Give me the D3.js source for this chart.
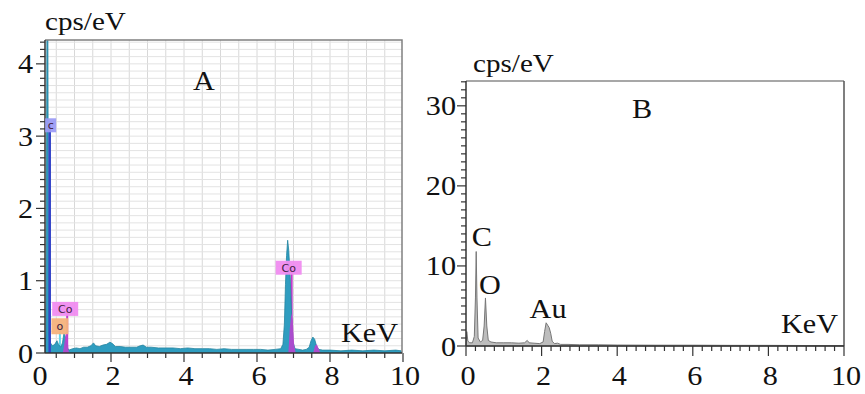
<!DOCTYPE html>
<html><head><meta charset="utf-8">
<script src="https://cdn.jsdelivr.net/npm/d3@7"></script>
<style>body{margin:0;background:#fff}svg{display:block}</style>
</head><body>
<svg id="c" width="865" height="394"></svg>
<script>
// ---------- DATA ----------
const xTicks = [0, 2, 4, 6, 8, 10];
const yTicksA = [0, 1, 2, 3, 4];
const yTicksB = [0, 10, 20, 30];
const unitY = "cps/eV";
const unitX = "KeV";
const panelNames = ["A", "B"];

// Panel A: measured spectrum [keV, cps/eV]
const spectrumA = [
 [0.18,0],[0.22,0.25],[0.245,4.6],[0.27,4.6],[0.29,0.3],[0.34,0.14],[0.40,0.10],[0.46,0.12],
 [0.52,0.17],[0.56,0.12],[0.62,0.08],[0.67,0.14],[0.71,0.27],[0.75,0.22],[0.79,0.08],[0.85,0.04],
 [0.95,0.06],[1.05,0.07],[1.15,0.06],[1.25,0.08],[1.35,0.08],[1.45,0.10],[1.52,0.14],[1.58,0.10],
 [1.68,0.09],[1.78,0.11],[1.88,0.12],[1.97,0.15],[2.04,0.13],[2.12,0.09],[2.25,0.09],[2.4,0.08],
 [2.55,0.08],[2.7,0.08],[2.8,0.10],[2.88,0.11],[2.97,0.08],[3.1,0.08],[3.3,0.07],[3.5,0.07],
 [3.7,0.07],[3.9,0.06],[4.1,0.07],[4.3,0.06],[4.5,0.06],[4.7,0.06],[4.9,0.05],[5.1,0.06],
 [5.3,0.05],[5.5,0.05],[5.7,0.05],[5.9,0.05],[6.1,0.05],[6.3,0.04],[6.5,0.05],[6.65,0.06],
 [6.71,0.12],[6.75,0.4],[6.78,0.95],[6.81,1.35],[6.84,1.56],[6.87,1.42],[6.91,1.05],[6.95,0.5],
 [6.99,0.15],[7.04,0.06],[7.15,0.05],[7.25,0.04],[7.35,0.05],[7.43,0.08],[7.48,0.17],[7.53,0.22],
 [7.58,0.19],[7.63,0.1],[7.69,0.05],[7.8,0.04],[8.0,0.04],[8.3,0.03],[8.6,0.04],[8.9,0.03],
 [9.2,0.04],[9.5,0.03],[9.8,0.04],[9.95,0.03]
];
// Panel A: Co fitted contribution (magenta), three peaks
const cobaltL  = [[0.68,0],[0.72,0.12],[0.76,0.28],[0.80,0.25],[0.84,0.02],[0.88,0]];
const cobaltKa = [[6.86,0],[6.90,0.35],[6.94,0.55],[6.98,0.45],[7.02,0.1],[7.06,0]];
const cobaltKb = [[7.54,0],[7.59,0.1],[7.64,0.12],[7.69,0.06],[7.74,0]];
// Panel A: element markers (line position in keV, label-box centre height)
const markersA = [
 {el:"C",  keV:0.32, lab:3.15, box:"#9c9cf5", line:"#3344c8", w:11, h:14, dx:1},
 {el:"O",  keV:0.60, lab:0.37, box:"#f6b27c", line:"#5fd7ec", w:17, h:16, dx:0},
 {el:"Co", keV:0.80, lab:0.61, box:"#f08cf0", line:"#c43ccc", w:26, h:14, dx:-2},
 {el:"Co", keV:6.95, lab:1.18, box:"#f08cf0", line:"#c43ccc", w:26, h:14, dx:-3}
];

// Panel B: measured spectrum [keV, cps/eV]
const spectrumB = [
 [0,0],[0.02,1.8],[0.05,0.6],[0.10,0.4],[0.17,0.4],[0.22,1.2],[0.25,6],[0.27,11.8],[0.29,6],
 [0.32,1.0],[0.38,0.5],[0.44,0.7],[0.48,2.5],[0.515,6.0],[0.55,2.5],[0.59,0.7],[0.66,0.5],
 [0.8,0.4],[1.0,0.4],[1.2,0.4],[1.4,0.35],[1.55,0.4],[1.62,0.7],[1.67,0.4],[1.8,0.35],
 [1.95,0.3],[2.04,0.5],[2.08,1.8],[2.12,2.9],[2.16,2.6],[2.20,2.3],[2.24,1.6],[2.28,0.6],
 [2.34,0.3],[2.42,0.35],[2.5,0.2],[2.7,0.2],[3.0,0.15],[3.5,0.15],[4,0.12],[5,0.1],
 [6,0.1],[7,0.08],[8,0.08],[9,0.06],[10,0.05]
];
// Panel B: peak labels
const labelsB = [
 {t:"C",  keV:0.42, v:12.6},
 {t:"O",  keV:0.63, v:6.6},
 {t:"Au", keV:2.17, v:3.5}
];

// ---------- DRAW ----------
const FONT = "Liberation Serif, Times New Roman, serif";
const svg = d3.select("#c");
const SX = 1.12; // horizontal stretch of the source lettering
function txt(g, x, y, s, size, anchor){
  return g.append("text").attr("transform",`translate(${x},${y}) scale(${SX},1)`)
    .attr("font-family",FONT).attr("fill","#111")
    .attr("font-size",size).attr("text-anchor",anchor||"start").text(s);
}

// ===== Panel A =====
const A = {l:45, r:402, t:40, b:353};
const xA = d3.scaleLinear().domain([0,10]).range([38,403]);
const yA = d3.scaleLinear().domain([0,4.33]).range([A.b, A.t]);
const gA = svg.append("g");
svg.append("defs").append("clipPath").attr("id","clipA").append("rect")
  .attr("x",A.l).attr("y",A.t).attr("width",A.r-A.l).attr("height",A.b-A.t);
// grid
const gridA = gA.append("g").attr("stroke-width",1);
d3.range(0.5,10,0.5).forEach(v=>{ if(xA(v)>A.l+1) gridA.append("line").attr("x1",xA(v)).attr("x2",xA(v)).attr("y1",A.t).attr("y2",A.b).attr("stroke","#d8d8d8");});
d3.range(1,44).map(i=>i/10).forEach(v=>gridA.append("line").attr("x1",A.l).attr("x2",A.r).attr("y1",yA(v)).attr("y2",yA(v)).attr("stroke","#e3e3e3"));
const plotA = gA.append("g").attr("clip-path","url(#clipA)");
const areaA = d3.area().x(d=>xA(d[0])).y0(yA(0)).y1(d=>yA(d[1]));
// marker lines (behind spectrum)
markersA.forEach(m=>{
  plotA.append("line").attr("x1",xA(m.keV)).attr("x2",xA(m.keV)).attr("y1",yA(0)).attr("y2",yA(m.lab))
   .attr("stroke",m.line).attr("stroke-width",2);
});
plotA.append("path").datum(spectrumA).attr("d",areaA).attr("fill","#2f9dc0").attr("stroke","#23849f").attr("stroke-width",0.8);
[cobaltL, cobaltKa, cobaltKb].forEach(p=>plotA.append("path").datum(p).attr("d",areaA).attr("fill","#c040d0").attr("opacity",0.85));
// C marker over the spectrum
const mC = markersA[0];
plotA.append("line").attr("x1",xA(mC.keV)).attr("x2",xA(mC.keV)).attr("y1",yA(0)).attr("y2",yA(mC.lab)).attr("stroke",mC.line).attr("stroke-width",2.5);
// frame
gA.append("path").attr("d",`M${A.l},${A.t}H${A.r}V${A.b}`).attr("fill","none").attr("stroke","#808080").attr("stroke-width",1.5);
gA.append("line").attr("x1",A.l).attr("x2",A.l).attr("y1",A.t).attr("y2",A.b).attr("stroke","#333").attr("stroke-width",1.5);
gA.append("line").attr("x1",A.l).attr("x2",A.r).attr("y1",A.b).attr("y2",A.b).attr("stroke","#333").attr("stroke-width",1.5);
// y ticks
d3.range(0,44).map(i=>i/10).forEach(v=>{
  const maj = Math.abs(v-Math.round(v))<1e-6;
  gA.append("line").attr("x1",A.l-(maj?9:5)).attr("x2",A.l).attr("y1",yA(v)).attr("y2",yA(v)).attr("stroke","#333").attr("stroke-width",1.2);
});
yTicksA.forEach(v=>txt(gA, 33, yA(v)+9.5, String(v), 27, "end"));
// x ticks
d3.range(0,21).map(i=>i/2).forEach(v=>{
  if(xA(v)<A.l-0.5) return;
  const maj = v%2===0;
  gA.append("line").attr("x1",xA(v)).attr("x2",xA(v)).attr("y1",A.b).attr("y2",A.b+(maj?9:5)).attr("stroke","#333").attr("stroke-width",1.2);
});
xTicks.forEach(v=>txt(gA, xA(v)+2, 385, String(v), 27, "middle"));
// labels
txt(gA, 45, 30, unitY, 26);
txt(gA, 204, 90, panelNames[0], 27, "middle");
txt(gA, 398, 342, unitX, 27, "end");
// element boxes
markersA.forEach(m=>{
  const cx = xA(m.keV)+m.dx, cy = yA(m.lab);
  gA.append("rect").attr("x",cx-m.w/2).attr("y",cy-m.h/2).attr("width",m.w).attr("height",m.h).attr("fill",m.box).attr("opacity",0.95);
  gA.append("text").attr("x",cx).attr("y",cy+4).attr("text-anchor","middle").attr("font-size",11)
    .attr("font-family","DejaVu Sans").attr("fill","#402040").text(m.el==="C"?"c":m.el==="O"?"o":"Co");
});

// ===== Panel B =====
const B = {l:466, r:844, t:81, b:346};
const xB = d3.scaleLinear().domain([0,10]).range([B.l,B.r]);
const yB = d3.scaleLinear().domain([0,33.1]).range([B.b,B.t]);
const gB = svg.append("g");
const areaB = d3.area().x(d=>xB(d[0])).y0(yB(0)).y1(d=>yB(d[1]));
gB.append("path").datum(spectrumB).attr("d",areaB).attr("fill","#bdbdbd").attr("stroke","#777").attr("stroke-width",1);
gB.append("line").attr("x1",B.l).attr("x2",B.r).attr("y1",B.t).attr("y2",B.t).attr("stroke","#8a8a8a").attr("stroke-width",1.5);
gB.append("line").attr("x1",B.r).attr("x2",B.r).attr("y1",B.t).attr("y2",B.b).attr("stroke","#555").attr("stroke-width",1.5);
gB.append("line").attr("x1",B.l).attr("x2",B.l).attr("y1",B.t).attr("y2",B.b).attr("stroke","#333").attr("stroke-width",1.5);
gB.append("line").attr("x1",B.l).attr("x2",B.r).attr("y1",B.b).attr("y2",B.b).attr("stroke","#333").attr("stroke-width",1.5);
d3.range(0,34).forEach(v=>{
  const maj = v%10===0;
  gB.append("line").attr("x1",B.l-(maj?9:5)).attr("x2",B.l).attr("y1",yB(v)).attr("y2",yB(v)).attr("stroke","#333").attr("stroke-width",1.2);
});
yTicksB.forEach(v=>txt(gB, 456, yB(v)+9.5, String(v), 27, "end"));
d3.range(0,41).map(i=>i/4).forEach(v=>{
  const maj = v%2===0;
  gB.append("line").attr("x1",xB(v)).attr("x2",xB(v)).attr("y1",B.b).attr("y2",B.b+(maj?10:5)).attr("stroke","#333").attr("stroke-width",1.2);
});
xTicks.forEach(v=>txt(gB, xB(v)+2, 385, String(v), 27, "middle"));
txt(gB, 473, 72, unitY, 26);
txt(gB, 642, 118, panelNames[1], 27, "middle");
txt(gB, 838, 333, unitX, 27, "end");
labelsB.forEach(l=>txt(gB, xB(l.keV), yB(l.v)+0.5, l.t, 27, "middle"));
</script>
</body></html>
